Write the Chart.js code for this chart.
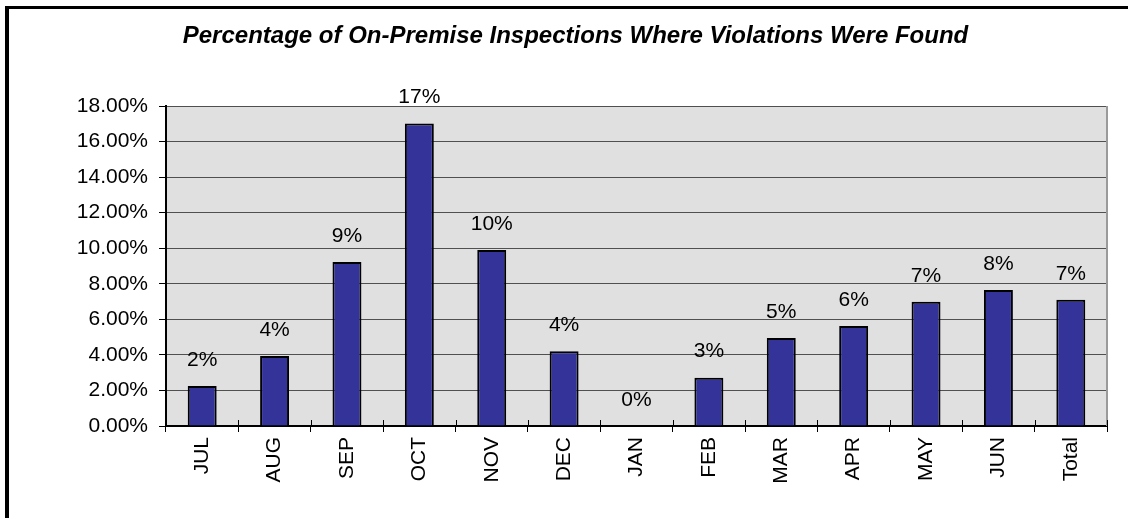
<!DOCTYPE html>
<html><head><meta charset="utf-8">
<script src="https://cdn.jsdelivr.net/npm/chart.js@4.4.1/dist/chart.umd.min.js"></script>
<style>
html,body{margin:0;padding:0;background:#fff;overflow:hidden;width:1128px;height:518px}
#frame{position:absolute;left:5px;top:6px;width:1300px;height:700px;border-left:4px solid #000;border-top:3px solid #000;}
#wrap{position:absolute;left:0;top:0;width:1128px;height:518px}
canvas{display:block}
</style></head><body>
<div id="frame"></div>
<div id="wrap"><canvas id="c" width="1128" height="518" style="width:1128px;height:518px"></canvas></div>
<script>
const titleText = "Percentage of On-Premise Inspections Where Violations Were Found";
const categories = ["JUL","AUG","SEP","OCT","NOV","DEC","JAN","FEB","MAR","APR","MAY","JUN","Total"];
const values = [2.25, 3.94, 9.22, 17.02, 9.9, 4.2, 0, 2.72, 4.95, 5.62, 6.99, 7.65, 7.1];
const dataLabels = ["2%","4%","9%","17%","10%","4%","0%","3%","5%","6%","7%","8%","7%"];
const yTicks = [0, 2, 4, 6, 8, 10, 12, 14, 16, 18];

const FONT = '"Liberation Sans", Arial, sans-serif';
Chart.defaults.font.family = FONT;
Chart.defaults.color = '#000';

const plotPlugin = {
  id: 'plotDecor',
  beforeDraw(chart) {
    const a = chart.chartArea, ctx = chart.ctx;
    ctx.save();
    ctx.fillStyle = '#E0E0E0';
    ctx.fillRect(a.left, a.top, a.right - a.left, a.bottom - a.top);
    ctx.restore();
  },
  afterDatasetsDraw(chart) {
    const a = chart.chartArea, ctx = chart.ctx;
    const xs = chart.scales.x;
    ctx.save();
    ctx.strokeStyle = '#9a9a9a';
    ctx.lineWidth = 2;
    ctx.beginPath(); ctx.moveTo(a.right, a.top); ctx.lineTo(a.right, a.bottom); ctx.stroke();
    const step = xs.getPixelForValue(1) - xs.getPixelForValue(0);
    ctx.strokeStyle = '#000'; ctx.lineWidth = 1;
    for (let i = 0; i <= categories.length; i++) {
      const x = Math.round(xs.getPixelForValue(i) - step / 2) + 0.5;
      ctx.beginPath(); ctx.moveTo(x, a.bottom - 6); ctx.lineTo(x, a.bottom); ctx.stroke();
    }
    const meta = chart.getDatasetMeta(0);
    ctx.font = '21px ' + FONT;
    ctx.fillStyle = '#000';
    ctx.textAlign = 'center';
    ctx.textBaseline = 'middle';
    meta.data.forEach((bar, i) => {
      ctx.fillText(dataLabels[i], bar.x, bar.y - 26);
    });
    ctx.restore();
  }
};

new Chart(document.getElementById('c'), {
  type: 'bar',
  data: {
    labels: categories,
    datasets: [{
      data: values,
      backgroundColor: '#333399',
      borderColor: '#000',
      borderWidth: 2,
      barPercentage: 0.4,
      categoryPercentage: 1.0
    }]
  },
  options: {
    responsive: false,
    animation: false,
    devicePixelRatio: 1,
    layout: { padding: { left: 44, right: 21, top: 0, bottom: 0 } },
    plugins: {
      legend: { display: false },
      tooltip: { enabled: false },
      title: {
        display: true,
        text: titleText,
        color: '#000',
        font: { family: FONT, size: 24, weight: 'bold', style: 'italic', lineHeight: 1.2 },
        padding: { top: 22, bottom: 55.2 }
      }
    },
    scales: {
      x: {
        offset: true,
        grid: { drawOnChartArea: false, offset: true, tickLength: 6, color: '#000', lineWidth: 1 },
        border: { color: '#000', width: 2 },
        ticks: { minRotation: 90, maxRotation: 90, padding: 5, font: { size: 21 }, color: '#000', autoSkip: false },
        afterFit(s) { s.height = 92; }
      },
      y: {
        min: 0, max: 18,
        afterBuildTicks(s) { s.ticks = yTicks.map(v => ({ value: v })); },
        grid: { color: '#505050', lineWidth: 1, tickLength: 7, tickColor: '#000' },
        border: { color: '#000', width: 2 },
        ticks: { padding: 11, font: { size: 21 }, color: '#000', callback: v => Number(v).toFixed(2) + '%' },
        afterFit(s) { s.width = 122; }
      }
    }
  },
  plugins: [plotPlugin]
});
</script>
</body></html>
